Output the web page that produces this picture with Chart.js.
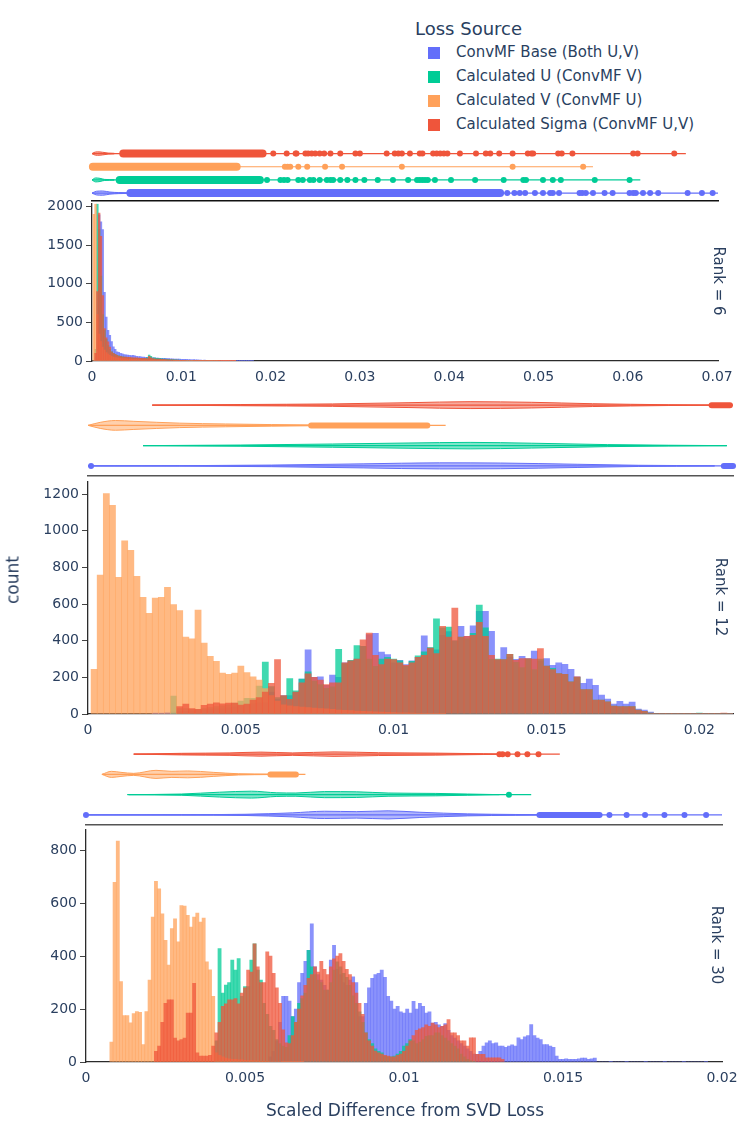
<!DOCTYPE html>
<html>
<head>
<meta charset="utf-8">
<script src="https://cdn.jsdelivr.net/npm/chart.js@4.4.1/dist/chart.umd.min.js"></script>
<style>
  body { margin: 0; background: #fff; }
  #fig { position: relative; width: 747px; height: 1128px; overflow: hidden;
         font-family: 'DejaVu Sans', Verdana, sans-serif; color: #2a3f5f; }
  #fig canvas { position: absolute; left: 0; }
  .txt { position: absolute; white-space: nowrap; line-height: 1; }
  .center { transform: translate(-50%, -50%); }
  .down { transform: translate(-50%, -50%) rotate(90deg); }
  .up { transform: translate(-50%, -50%) rotate(-90deg); }
  .swatch { position: absolute; width: 12px; height: 12px; }
</style>
</head>
<body>
<div id="fig">
  <canvas id="marg6" width="747" height="66" style="top:139px"></canvas>
  <canvas id="hist6" width="747" height="209" style="top:192px"></canvas>
  <canvas id="marg12" width="747" height="93" style="top:387px"></canvas>
  <canvas id="hist12" width="747" height="284" style="top:470px"></canvas>
  <canvas id="marg30" width="747" height="93" style="top:736px"></canvas>
  <canvas id="hist30" width="747" height="284" style="top:818px"></canvas>

  <div class="txt down" style="left:718px; top:281px; font-size:15px;">Rank = 6</div>
  <div class="txt down" style="left:720px; top:597px; font-size:15px;">Rank = 12</div>
  <div class="txt down" style="left:716px; top:945px; font-size:15px;">Rank = 30</div>
  <div class="txt up" style="left:13px; top:580px; font-size:17px;">count</div>
  <div class="txt center" style="left:405px; top:1110px; font-size:17px;">Scaled Difference from SVD Loss</div>
  <div class="txt" style="left:415px; top:20px; font-size:18px;">Loss Source</div>
  <div id="legend"></div>
</div>
<script>
// series, in plotly trace order: blue, green, orange, red
const seriesNames = ['ConvMF Base (Both U,V)', 'Calculated U (ConvMF V)', 'Calculated V (ConvMF U)', 'Calculated Sigma (ConvMF U,V)'];
const seriesColors = ['#636efa', '#00cc96', '#ffa15a', '#ef553b'];

// tick labels
const rank6XTicks = [0, 0.01, 0.02, 0.03, 0.04, 0.05, 0.06, 0.07];
const rank6YTicks = [0, 500, 1000, 1500, 2000];
const rank12XTicks = [0, 0.005, 0.01, 0.015, 0.02];
const rank12YTicks = [0, 200, 400, 600, 800, 1000, 1200];
const rank30XTicks = [0, 0.005, 0.01, 0.015, 0.02];
const rank30YTicks = [0, 200, 400, 600, 800];

// ---- Rank = 6 : histogram counts, bins of 0.0002 (bin k centred on 0.0002*(k+1))
const rank6Bin = 0.0002;
const rank6Blue = [0, 50, 400, 1893, 1800, 1700, 889, 568, 397, 333,
  250, 184, 150, 120, 112, 98, 92, 84, 80, 77, 75, 70, 72, 66, 60, 58, 56, 50, 51, 47,
  46, 44, 45, 41, 40, 37, 38, 35, 35, 33, 33, 31, 30, 28, 29, 26, 26, 24, 25, 22,
  22, 20, 21, 18, 18, 16, 17, 14, 14, 12, 12, 10, 11, 9, 9, 8, 9, 7, 7, 6,
  6, 6, 5, 4, 5, 4, 3, 4, 3, 3, 3, 2, 2, 3, 2, 2, 1, 2, 1, 1];
const rank6Green = [0, 150, 2030, 1700, 1100, 600, 400, 280, 200, 150,
  120, 100, 85, 74, 66, 60, 54, 50, 46, 42, 40, 37, 36, 35, 33, 33, 32, 31, 31, 30,
  45, 77, 60, 38, 40, 35, 33, 30, 28, 26, 25, 22, 20, 19, 18, 16, 14, 12, 11, 10,
  9, 8, 8, 7, 6, 5, 5, 4, 4, 3, 3, 3, 2, 2, 2, 2, 1, 1, 1, 1];
const rank6Orange = [1900, 2030, 600, 350, 250, 180, 140, 110, 90, 75,
  60, 50, 45, 40, 38, 35, 32, 30, 28, 26, 25, 24, 22, 20, 20, 18, 18, 16, 15, 15,
  14, 13, 12, 12, 11, 10, 10, 9, 9, 8, 8, 7, 7, 6, 6, 5, 5, 5, 4, 4,
  4, 3, 3, 3, 3, 2, 2, 2, 2, 2, 2, 2, 1, 1, 1, 1, 1, 1, 1, 1,
  1, 1, 1, 1, 1, 1, 1, 1, 1, 1];
const rank6Red = [0, 100, 900, 1915, 1615, 846, 419, 300, 248, 180,
  120, 100, 85, 75, 65, 60, 55, 52, 50, 48, 46, 44, 42, 40, 40, 38, 36, 35, 34, 33,
  32, 60, 40, 30, 28, 26, 25, 24, 22, 20, 18, 17, 16, 15, 14, 13, 12, 11, 10, 9,
  9, 8, 7, 7, 6, 6, 5, 5, 4, 4, 4, 3, 3, 3, 3, 2, 2, 2, 2, 2,
  2, 2, 1, 1, 1, 1, 1, 1, 1, 1];

// ---- Rank = 12 : bins of 0.0002 (bin k centred on 0.0002*(k+1)), first bin index given
const rank12Bin = 0.0002;
const rank12BlueStart = 10;
const rank12Blue = [5, 5, 8, 10, 12, 15, 18, 20, 22, 25, 28, 30, 35, 40, 45, 50, 55, 60,
  60, 120, 80, 100, 100, 120, 190, 351, 200, 203,
  156, 212, 200, 280, 290, 300, 370, 434, 440, 338,
  325, 280, 293, 270, 290, 310, 427, 360, 350, 430,
  450, 400, 478, 424, 481, 560, 561, 452, 293, 362,
  311, 298, 315, 302, 344, 290, 302, 266, 280, 271,
  244, 203, 167, 190, 157, 103, 81, 54, 69, 54,
  65, 27, 22, 11, 3, 2, 2, 1, 2, 3, 2, 3, 1, 2, 3, 2, 4];
const rank12GreenStart = 13;
const rank12Green = [98, 30, 30, 25, 25, 30, 35, 40, 45, 50, 60, 70, 85, 85, 152,
  284, 150, 90, 98, 194, 127, 190, 230, 180, 160,
  140, 148, 353, 275, 293, 373, 370, 300, 260, 300,
  310, 300, 290, 260, 288, 317, 340, 362, 519, 470,
  474, 400, 420, 410, 440, 595, 470, 298, 300, 297,
  326, 282, 253, 300, 243, 300, 262, 250, 221, 217,
  176, 200, 134, 134, 76, 76, 67, 43, 40, 40,
  40, 22, 15, 5, 2, 2, 3, 2, 1, 3, 4, 5, 2, 1, 2, 1, 2];
const rank12OrangeStart = 0;
const rank12Orange = [244, 758, 1204, 1140, 746, 945, 894, 751, 637, 550,
  633, 637, 691, 597, 565, 420, 411, 568, 387, 315, 288, 224, 217, 224, 262, 226, 203, 185,
  139, 100, 70, 50, 45, 40, 38, 35, 32, 30, 28, 25, 22, 20, 18, 16, 15, 13, 12, 10,
  9, 8, 7, 6, 5, 4, 3, 2, 2, 1];
const rank12RedStart = 14;
const rank12Red = [40, 54, 29, 25, 47, 54, 61, 55, 60, 60, 49, 54, 76, 90,
  120, 167, 297, 100, 80, 120, 170, 220, 200, 185,
  160, 170, 170, 280, 290, 300, 405, 442, 320, 270,
  300, 297, 280, 266, 280, 310, 320, 360, 330, 478,
  420, 579, 420, 424, 430, 500, 424, 320, 297, 297,
  326, 293, 302, 302, 300, 357, 262, 243, 221, 217,
  176, 203, 134, 134, 76, 76, 67, 43, 40, 40,
  40, 22, 15, 5, 1, 1, 2, 1, 2, 1, 2, 1, 3, 2, 4, 5, 2];

// ---- Rank = 30 : bins of 0.0001 (bin k centred on 0.0001*k)
const rank30Bin = 0.0001;
const rank30BlueStart = 58;
const rank30Blue = [20, 40, 80, 150, 248, 248, 230, 172, 200, 300,
  335, 380, 422, 522, 360, 330, 310, 290, 272, 385,
  441, 350, 330, 300, 290, 310, 322, 300, 172, 172,
  222, 280, 316, 330, 335, 347, 320, 248, 230, 200,
  210, 190, 185, 200, 185, 229, 200, 222, 210, 185,
  190, 147, 150, 140, 135, 145, 120, 100, 90, 80,
  70, 60, 50, 40, 30, 29, 40, 60, 72, 80,
  70, 72, 60, 60, 55, 60, 65, 60, 91, 85,
  95, 100, 141, 100, 90, 85, 66, 66, 60, 55,
  22, 10, 10, 12, 10, 10, 10, 12, 15, 15,
  10, 12, 15, 0, 0, 0, 0, 1, 0, 0,
  0, 0, 1, 0, 0, 0, 0, 0, 1, 0,
  0, 0, 0, 0, 1, 0, 0, 0, 0, 0,
  1, 0, 0, 0, 0, 0, 0, 1];
const rank30GreenStart = 41;
const rank30Green = [80, 429, 260, 291, 300, 385, 347, 391, 248, 285,
  285, 385, 447, 347, 310, 222, 180, 135, 120, 85,
  70, 60, 55, 100, 172, 150, 222, 240, 260, 422,
  360, 330, 310, 300, 272, 272, 300, 347, 379, 360,
  335, 320, 290, 250, 222, 190, 150, 110, 85, 70,
  50, 40, 35, 22, 20, 20, 22, 30, 40, 60,
  70, 85, 80, 70, 75, 85, 97, 100, 100, 110,
  110, 100, 90, 80, 70, 60, 50, 30, 20, 10, 5, 3];
const rank30OrangeStart = 8;
const rank30Orange = [75, 679, 835, 304, 175, 175, 148, 183, 191, 188,
  66, 191, 310, 548, 683, 654, 560, 460, 366, 504,
  541, 454, 591, 589, 554, 510, 548, 563, 529, 544,
  379, 348, 248, 35, 25, 20, 15, 12, 10, 10,
  8, 8, 6, 5, 5, 4, 4, 3, 3, 3, 2, 2, 2, 2, 1, 1, 1, 1, 1, 1, 1];
const rank30RedStart = 22;
const rank30Red = [40, 60, 150, 222, 235, 235, 90, 80, 85, 90,
  185, 185, 297, 35, 22, 22, 22, 25, 60, 110,
  150, 210, 220, 235, 235, 240, 220, 260, 280, 347,
  340, 447, 360, 300, 300, 416, 400, 335, 280, 222,
  122, 72, 70, 100, 150, 200, 250, 290, 316, 330,
  360, 340, 380, 350, 330, 360, 390, 400, 410, 380,
  350, 330, 300, 260, 222, 180, 110, 80, 60, 41,
  35, 30, 25, 22, 20, 20, 25, 30, 40, 60,
  80, 100, 120, 125, 130, 140, 135, 147, 140, 130,
  135, 140, 160, 110, 110, 100, 80, 80, 60, 91,
  91, 29, 29, 29, 16, 16, 16, 16, 16, 10];

// ---- marginal violins: [value, half width in lane units], per series (blue, green, orange, red)
const rank6Violins = [
  [[0, 0], [0.0005, 0.14], [0.0012, 0.16], [0.002, 0.08], [0.003, 0.04], [0.0043, 0.02]],
  [[0, 0], [0.0004, 0.15], [0.0009, 0.12], [0.0014, 0.04], [0.0025, 0.02]],
  [[-0.0001, 0], [0, 0.17], [0.0005, 0.17], [0.0006, 0.05]],
  [[0, 0], [0.0002, 0.08], [0.0006, 0.13], [0.0012, 0.1], [0.0018, 0.04], [0.0025, 0.02]]
];
const rank6Ranges = [[0, 0.0701], [0, 0.0614], [0, 0.0561], [0, 0.0665]];
const rank6Bands = [[0.0043, 0.0457], [0.0031, 0.0188], [0.0001, 0.0162], [0.0035, 0.0191]];
const rank6Outliers = [
  [0.0465, 0.0473, 0.0479, 0.0485, 0.0496, 0.0505, 0.0513, 0.0516, 0.0523, 0.0546, 0.0549, 0.0553,
   0.0561, 0.0574, 0.0583, 0.0602, 0.0606, 0.0609, 0.0617, 0.0625, 0.0634, 0.0667, 0.0683, 0.0695],
  [0.0196, 0.0211, 0.0215, 0.0219, 0.0231, 0.0236, 0.0244, 0.0248, 0.0255, 0.0263, 0.0267, 0.0270,
   0.0278, 0.0286, 0.0295, 0.0305, 0.0320, 0.0337, 0.0354, 0.0364, 0.0367, 0.0370, 0.0373, 0.0376,
   0.0384, 0.0402, 0.0429, 0.0461, 0.0483, 0.0486, 0.0505, 0.0516, 0.0525, 0.0563, 0.0602],
  [0.0216, 0.0219, 0.0222, 0.0231, 0.0241, 0.0261, 0.0280, 0.0347, 0.0471, 0.0550],
  [0.0203, 0.0218, 0.0228, 0.0229, 0.0239, 0.0242, 0.0246, 0.0250, 0.0255, 0.0260, 0.0267, 0.0278,
   0.0295, 0.0300, 0.0330, 0.0339, 0.0343, 0.0347, 0.0356, 0.0367, 0.0370, 0.0382, 0.0386, 0.0390,
   0.0394, 0.0398, 0.0412, 0.0430, 0.0441, 0.0446, 0.0456, 0.0471, 0.0488, 0.0492, 0.0494, 0.0522,
   0.0526, 0.0538, 0.0606, 0.0611, 0.0652]
];

const rank12Violins = [
  [[0, 0], [0.003, 0.01], [0.006, 0.04], [0.009, 0.1], [0.0115, 0.15], [0.0135, 0.14], [0.016, 0.08], [0.018, 0.03], [0.0205, 0.01]],
  [[0.0018, 0], [0.005, 0.03], [0.008, 0.08], [0.0105, 0.13], [0.0125, 0.16], [0.0145, 0.12], [0.017, 0.05], [0.019, 0.02], [0.0209, 0]],
  [[0, 0], [0.0004, 0.15], [0.0009, 0.24], [0.0015, 0.2], [0.003, 0.11], [0.0045, 0.07], [0.006, 0.04], [0.0073, 0.02]],
  [[0.0021, 0], [0.005, 0.03], [0.008, 0.06], [0.0105, 0.12], [0.0125, 0.17], [0.0145, 0.14], [0.0165, 0.07], [0.019, 0.02], [0.0204, 0.005]]
];
const rank12Ranges = [[0, 0.0211], [0.0018, 0.0209], [0, 0.0117], [0.0021, 0.0211]];
const rank12Bands = [[0.0208, 0.0211], null, [0.0073, 0.0111], [0.0204, 0.0210]];
const rank12Outliers = [[0.0001], [], [], []];

const rank30Violins = [
  [[0, 0], [0.003, 0.01], [0.005, 0.03], [0.0065, 0.1], [0.0075, 0.18], [0.0085, 0.16], [0.0095, 0.2], [0.0105, 0.13], [0.012, 0.05], [0.0135, 0.02], [0.0143, 0.01]],
  [[0.0013, 0], [0.003, 0.03], [0.0042, 0.12], [0.0052, 0.17], [0.006, 0.09], [0.0066, 0.08], [0.0075, 0.15], [0.0085, 0.14], [0.0095, 0.08], [0.011, 0.06], [0.012, 0.03], [0.013, 0]],
  [[0.0005, 0], [0.0008, 0.15], [0.0011, 0.1], [0.0015, 0.05], [0.0022, 0.2], [0.0027, 0.15], [0.0032, 0.17], [0.004, 0.1], [0.0048, 0.03], [0.0058, 0.01]],
  [[0.0015, 0], [0.003, 0.04], [0.0045, 0.06], [0.0055, 0.1], [0.0065, 0.06], [0.0078, 0.11], [0.0092, 0.07], [0.011, 0.05], [0.0125, 0.02], [0.0131, 0]]
];
const rank30Ranges = [[0, 0.0200], [0.00134, 0.0140], [0.0005, 0.0069], [0.0015, 0.0149]];
const rank30Bands = [[0.01426, 0.01615], null, [0.0058, 0.0066], null];
const rank30Outliers = [
  [0, 0.01646, 0.0170, 0.01758, 0.01819, 0.01882, 0.0195],
  [0.0133],
  [],
  [0.0130, 0.0131, 0.01326, 0.01357, 0.01388, 0.01423]
];

Chart.defaults.font.family = "'DejaVu Sans', Verdana, sans-serif";
Chart.defaults.color = '#2a3f5f';

function fade(hex, a) {
  const n = parseInt(hex.slice(1), 16);
  return `rgba(${n >> 16}, ${(n >> 8) & 255}, ${n & 255}, ${a})`;
}

function binPoints(counts, start, binWidth, offset) {
  return counts.map((c, i) => ({ x: (start + i) * binWidth + offset, y: c }));
}

function tickText(v) {
  return String(parseFloat(v.toFixed(4)));
}

// histogram panel, overlaid bars
function makeHistogram(id, frame, xMax, xTicks, yMax, yTicks, binWidth, offset, series) {
  new Chart(document.getElementById(id), {
    type: 'bar',
    data: {
      datasets: series.map((s, i) => ({
        label: seriesNames[i],
        data: binPoints(s[0], s[1], binWidth, offset),
        backgroundColor: fade(seriesColors[i], 0.75),
        borderWidth: 0,
        barPercentage: 1,
        categoryPercentage: 1,
        grouped: false,
        order: 3 - i
      }))
    },
    options: {
      responsive: false,
      animation: false,
      layout: { padding: { top: 10, right: 747 - frame.right, left: 0, bottom: 0 } },
      plugins: { legend: { display: false }, tooltip: { enabled: false } },
      scales: {
        x: {
          type: 'linear', min: 0, max: xMax, offset: false,
          grid: { display: false, drawTicks: false },
          border: { display: true, color: '#2b2b2b', width: 1.3 },
          ticks: { autoSkip: false, maxRotation: 0, padding: 8, font: { size: 14 }, callback: tickText },
          afterBuildTicks: s => { s.ticks = xTicks.map(value => ({ value })); },
          afterFit: s => { s.height = 40; }
        },
        y: {
          min: 0, max: yMax,
          grid: { drawOnChartArea: false, drawTicks: true, tickLength: 6, color: '#444' },
          border: { display: true, color: '#2b2b2b', width: 1.3 },
          ticks: { padding: 3, font: { size: 14 }, callback: v => String(v) },
          afterBuildTicks: s => { s.ticks = yTicks.map(value => ({ value })); },
          afterFit: s => { s.width = frame.left; }
        }
      }
    }
  });
}

// violin strip above each histogram, one lane per series
function makeMarginal(id, frame, xMax, yMin, lineColor, violins, ranges, bands, outliers, bandWidth, dotRadius) {
  const sets = [];
  seriesColors.forEach((color, lane) => {
    sets.push({ type: 'line', data: ranges[lane].map(x => ({ x, y: lane })),
                borderColor: color, borderWidth: 1.2, pointRadius: 0, clip: false });
    sets.push({ type: 'line', data: violins[lane].map(p => ({ x: p[0], y: lane + p[1] })),
                borderColor: color, borderWidth: 1, pointRadius: 0, cubicInterpolationMode: 'monotone', clip: false });
    sets.push({ type: 'line', data: violins[lane].map(p => ({ x: p[0], y: lane - p[1] })),
                borderColor: color, borderWidth: 1, pointRadius: 0, cubicInterpolationMode: 'monotone',
                fill: '-1', backgroundColor: fade(color, 0.5), clip: false });
    if (bands[lane]) {
      sets.push({ type: 'line', data: bands[lane].map(x => ({ x, y: lane })),
                  borderColor: color, borderWidth: bandWidth, borderCapStyle: 'round', pointRadius: 0, clip: false });
    }
    if (outliers[lane].length) {
      sets.push({ type: 'scatter', data: outliers[lane].map(x => ({ x, y: lane })),
                  backgroundColor: color, borderWidth: 0, pointRadius: dotRadius, clip: false });
    }
  });
  new Chart(document.getElementById(id), {
    type: 'line',
    data: { datasets: sets },
    options: {
      responsive: false,
      animation: false,
      layout: { padding: { top: 8, bottom: 2, left: frame.left, right: 747 - frame.right } },
      plugins: { legend: { display: false }, tooltip: { enabled: false } },
      scales: {
        x: { type: 'linear', min: 0, max: xMax,
             grid: { display: false, drawTicks: false },
             border: { display: true, color: lineColor, width: 1.6 },
             ticks: { display: false },
             afterFit: s => { s.height = 0; } },
        y: { display: false, min: yMin, max: 3.5 }
      }
    }
  });
}

makeMarginal('marg6', { left: 92, right: 718 }, 0.0701, -0.6, '#111',
  rank6Violins, rank6Ranges, rank6Bands, rank6Outliers, 8, 3);
makeHistogram('hist6', { left: 92, right: 718 }, 0.0701, rank6XTicks, 2040, rank6YTicks, rank6Bin, rank6Bin,
  [[rank6Blue, 0], [rank6Green, 0], [rank6Orange, 0], [rank6Red, 0]]);

makeMarginal('marg12', { left: 88, right: 733 }, 0.0211, -0.5, '#555',
  rank12Violins, rank12Ranges, rank12Bands, rank12Outliers, 6, 3);
makeHistogram('hist12', { left: 88, right: 733 }, 0.0211, rank12XTicks, 1270, rank12YTicks, rank12Bin, rank12Bin,
  [[rank12Blue, rank12BlueStart], [rank12Green, rank12GreenStart],
   [rank12Orange, rank12OrangeStart], [rank12Red, rank12RedStart]]);

makeMarginal('marg30', { left: 86, right: 722 }, 0.02, -0.5, '#555',
  rank30Violins, rank30Ranges, rank30Bands, rank30Outliers, 6, 3);
makeHistogram('hist30', { left: 86, right: 722 }, 0.02, rank30XTicks, 879, rank30YTicks, rank30Bin, 0,
  [[rank30Blue, rank30BlueStart], [rank30Green, rank30GreenStart],
   [rank30Orange, rank30OrangeStart], [rank30Red, rank30RedStart]]);

// legend
const legend = document.getElementById('legend');
seriesNames.forEach((name, i) => {
  const cy = 53 + i * 24;
  const sw = document.createElement('div');
  sw.className = 'swatch';
  sw.style.left = '428px';
  sw.style.top = (cy - 6) + 'px';
  sw.style.background = seriesColors[i];
  legend.appendChild(sw);
  const t = document.createElement('div');
  t.className = 'txt';
  t.style.left = '456px';
  t.style.top = (cy - 8) + 'px';
  t.style.fontSize = '15px';
  t.textContent = name;
  legend.appendChild(t);
});
</script>
</body>
</html>
